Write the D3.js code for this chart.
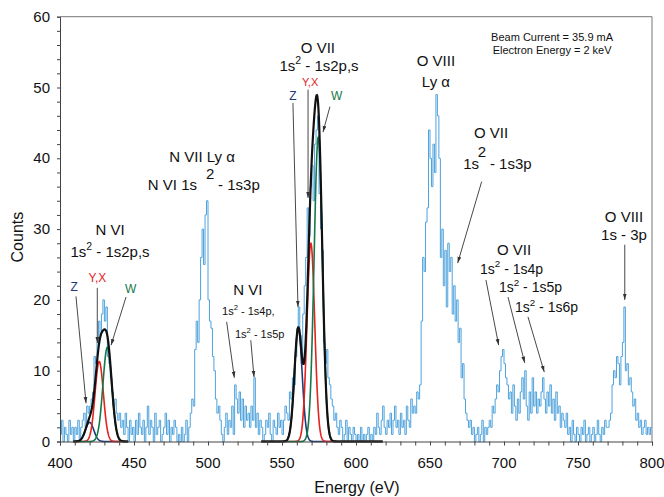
<html>
<head>
<meta charset="utf-8">
<script src="https://d3js.org/d3.v7.min.js"></script>
<style>
  body { margin: 0; background: #ffffff; }
  text { font-family: "Liberation Sans", Arial, Helvetica, sans-serif; }
</style>
</head>
<body>
<div id="chart"></div>
<script>

  // histogram counts, 1 eV bins starting at 400 eV
  let counts400 = [
    1,3,0,2,1,0,3,1,2,0,  2,1,3,0,2,3,4,2,5,4,
    5,6,7,12,11,14,17,15,18,20,  17,19,12,11,9,7,5,6,4,3,
    4,2,3,1,4,2,0,3,1,2,  0,3,1,4,2,1,3,0,2,5,
    1,3,2,0,4,1,2,3,0,1,  2,4,1,3,0,2,1,3,2,0,
    1,0,2,0,1,3,0,2,4,6,  5,13,17,14,20,26,30,25,32,34
  ];
  let counts500 = [
    20,17,16,12,10,6,4,5,3,1,  0,2,4,1,3,2,5,1,8,6,
    4,7,3,6,2,5,3,4,2,5,  3,9,2,4,1,3,2,0,1,3,
    2,4,1,0,3,2,1,4,2,3,  1,3,5,4,3,7,6,9,8,12,
    16,19,15,11,18,22,26,33,29,36,  39,34,42,44,46,35,30,27,14,11,
    13,9,8,6,5,3,4,2,1,3,  2,0,1,3,0,2,1,0,2,1
  ];
  let counts600 = [
    0,1,0,2,0,1,0,1,2,0,  1,0,2,1,4,2,1,3,5,2,
    1,3,2,4,1,3,5,2,3,1,  4,2,3,1,5,3,2,6,4,5,
    4,7,6,8,17,26,24,31,33,44,  40,36,42,38,49,46,40,26,30,22,
    27,19,28,24,26,18,22,17,20,14,  16,9,11,6,4,3,2,3,1,2,
    0,1,2,0,1,3,0,2,1,2,  3,2,5,4,6,8,7,10,12,13
  ];
  let counts700 = [
    11,9,8,6,7,4,8,5,3,6,  4,7,9,6,10,5,3,7,4,9,
    5,7,4,6,5,7,9,6,4,7,  5,8,4,6,3,7,4,5,2,4,
    3,2,4,1,2,0,3,1,0,2,  1,0,2,1,3,0,1,2,0,1,
    2,0,1,3,1,0,2,1,3,2,  2,3,4,8,10,9,12,11,8,12,
    14,19,10,11,8,9,7,5,6,3,  4,2,3,1,2,3,1,2,1,2
  ];
  let binStart = 400;
  let counts = [].concat(counts400, counts500, counts600, counts700);

  // fitted line components (z, y+x, w) for the two triplets
  let fitNames   = ["z", "yx", "w"];
  let nviCenters = [420.0, 426.5, 432.0];
  let nviAmps    = [2.7, 11.3, 13.3];
  let nviSigmas  = [2.8, 2.8, 3.0];
  let nviRange   = [409, 446];
  let oviiCenters = [561.0, 569.5, 574.5];
  let oviiAmps    = [16.0, 28.0, 43.0];
  let oviiSigmas  = [2.6, 2.6, 2.8];
  let oviiRange   = [536, 618];

  let xTicks = [400, 450, 500, 550, 600, 650, 700, 750, 800];
  let yTicks = [0, 10, 20, 30, 40, 50, 60];

  let width = 664, height = 497;
  let mLeft = 60, mRight = 652, mTop = 16.7, mBottom = 441.5;

  let svg = d3.select("#chart").append("svg")
    .attr("width", width)
    .attr("height", height);

  svg.append("rect").attr("width", width).attr("height", height).style("fill", "#ffffff");

  let x = d3.scaleLinear().domain([400, 800]).range([mLeft, mRight]);
  let y = d3.scaleLinear().domain([0, 60]).range([mBottom, mTop]);

  // frame (top and right)
  svg.append("path")
    .attr("d", `M${mLeft},${mTop}H${mRight}V${mBottom}`)
    .style("fill", "none").style("stroke", "#777").style("stroke-width", 1);

  // histogram
  let histPts = counts.map((c, i) => [binStart + i, c]);
  histPts.push([binStart + counts.length, counts[counts.length - 1]]);
  let stepLine = d3.line()
    .x(d => x(d[0])).y(d => y(d[1]))
    .curve(d3.curveStepAfter);
  svg.append("path")
    .attr("d", stepLine(histPts))
    .style("fill", "none")
    .style("stroke", "#4ea2dc")
    .style("stroke-width", 1);

  // fit curves
  let colors = { z: "#1f3a78", yx: "#e3231f", w: "#16784a" };
  let smooth = d3.line().x(d => x(d[0])).y(d => y(d[1]));

  function drawFit(centers, amps, sigmas, range) {
    let es = d3.range(range[0], range[1] + 0.001, 0.2);
    let g = (k, e) => amps[k] * Math.exp(-Math.pow(e - centers[k], 2) / (2 * sigmas[k] * sigmas[k]));
    fitNames.forEach((name, k) => {
      svg.append("path")
        .attr("d", smooth(es.map(e => [e, g(k, e)])))
        .style("fill", "none")
        .style("stroke", colors[name])
        .style("stroke-width", 1.6);
    });
    svg.append("path")
      .attr("d", smooth(es.map(e => [e, g(0, e) + g(1, e) + g(2, e)])))
      .style("fill", "none")
      .style("stroke", "#111")
      .style("stroke-width", 2.2);
  }
  drawFit(nviCenters, nviAmps, nviSigmas, nviRange);
  drawFit(oviiCenters, oviiAmps, oviiSigmas, oviiRange);

  // axes
  let xAxis = svg.append("g").attr("transform", `translate(0,${mBottom})`)
    .call(d3.axisBottom(x).tickValues(d3.range(400, 801, 10)).tickSize(4).tickFormat(""));
  xAxis.select(".domain").style("stroke", "#444");
  xAxis.selectAll(".tick line").style("stroke", "#444");
  svg.selectAll(".xlab").data(xTicks).enter().append("text")
    .attr("x", d => x(d)).attr("y", mBottom + 26)
    .attr("text-anchor", "middle")
    .style("font-size", "15px").style("fill", "#111")
    .text(d => d);

  let yAxis = svg.append("g").attr("transform", `translate(${mLeft},0)`)
    .call(d3.axisLeft(y).tickValues(d3.range(0, 61, 2)).tickSize(3).tickFormat(""));
  yAxis.select(".domain").style("stroke", "#444");
  yAxis.selectAll(".tick line").style("stroke", "#444");
  svg.selectAll(".ylab").data(yTicks).enter().append("text")
    .attr("x", mLeft - 10).attr("y", d => y(d) + 5)
    .attr("text-anchor", "end")
    .style("font-size", "15px").style("fill", "#111")
    .text(d => d);

  svg.append("text")
    .attr("transform", `translate(23,${(mTop + mBottom) / 2 + 8}) rotate(-90)`)
    .attr("text-anchor", "middle")
    .style("font-size", "16px").style("fill", "#111")
    .text("Counts");
  svg.append("text")
    .attr("x", 357).attr("y", 493)
    .attr("text-anchor", "middle")
    .style("font-size", "16px").style("fill", "#111")
    .text("Energy (eV)");

  // annotations (positions in eV / counts)
  svg.append("defs").append("marker")
    .attr("id", "arr").attr("viewBox", "0 0 10 10")
    .attr("refX", 10).attr("refY", 5)
    .attr("markerWidth", 7).attr("markerHeight", 7)
    .attr("orient", "auto-start-reverse")
    .append("path").attr("d", "M0,2 L10,5 L0,8 Z").style("fill", "#333");

  function label(e, c, txt, size, anchor, color) {
    return svg.append("text")
      .attr("x", x(e)).attr("y", y(c))
      .attr("text-anchor", anchor || "middle")
      .style("font-size", size + "px")
      .style("fill", color || "#111")
      .text(txt);
  }
  function sqLabel(e, c, pre, post, size, anchor) {
    let t = label(e, c, "", size, anchor);
    t.append("tspan").text(pre);
    t.append("tspan").attr("dy", -size * 0.45).style("font-size", (size * 0.7) + "px").text("2");
    t.append("tspan").attr("dy", size * 0.45).text(post);
    return t;
  }
  function arrow(e1, c1, e2, c2) {
    svg.append("line")
      .attr("x1", x(e1)).attr("y1", y(c1)).attr("x2", x(e2)).attr("y2", y(c2))
      .style("stroke", "#333").style("stroke-width", 0.9)
      .attr("marker-end", "url(#arr)");
  }

  label(732.5, 56.5, "Beam Current = 35.9 mA", 11);
  label(732.5, 54.7, "Electron Energy = 2 keV", 11);

  // N VI triplet
  label(433.8, 29.2, "N VI", 15);
  sqLabel(433.8, 26.1, "1s", " - 1s2p,s", 15);
  label(409.5, 21.3, "Z", 12, "middle", colors.z);
  label(425.3, 22.5, "Y,X", 12, "middle", colors.yx);
  label(447.8, 21.0, "W", 12, "middle", colors.w);
  arrow(410.8, 20.5, 417.6, 5.4);
  arrow(425.2, 21.7, 425.2, 13.9);
  arrow(444.6, 20.4, 434.5, 13.6);

  // N VII Ly a / N VI 1s3p
  label(496, 39.5, "N VII Ly \u03b1", 15);
  label(501.4, 37.1, "2", 15);
  label(492.6, 35.5, "N VI 1s", 15, "end");
  label(506.8, 35.5, "- 1s3p", 15, "start");

  // N VI higher series
  label(527, 20.7, "N VI", 15);
  sqLabel(509.5, 17.9, "1s", " - 1s4p,", 11, "start");
  sqLabel(518.2, 14.6, "1s", " - 1s5p", 11, "start");
  arrow(512.6, 16.9, 517.8, 9.0);
  arrow(528.9, 14.3, 531.1, 9.1);

  // O VII triplet
  label(574.3, 54.9, "O VII", 15);
  sqLabel(575, 52.3, "1s", " - 1s2p,s", 15);
  label(569, 50.2, "Y,X", 11, "middle", colors.yx);
  label(557.4, 48.3, "Z", 12, "middle", colors.z);
  label(587, 48.3, "W", 12, "middle", colors.w);
  arrow(557.4, 47.8, 560.8, 19.0);
  arrow(567.6, 49.7, 567.6, 34.4);
  arrow(582.4, 47.3, 577.7, 43.7);

  // O VIII Ly a
  label(654, 53.1, "O VIII", 15);
  label(654, 50.1, "Ly \u03b1", 15);

  // O VII 1s3p
  label(691.2, 42.8, "O VII", 15);
  label(685.1, 40.2, "2", 15);
  label(683.1, 38.5, "1s", 15, "end");
  label(690.5, 38.5, "- 1s3p", 15, "start");
  arrow(684.9, 36.7, 668.7, 25.2);

  // O VII higher series
  label(706.8, 26.4, "O VII", 15);
  sqLabel(683.8, 23.7, "1s", " - 1s4p", 14, "start");
  sqLabel(696.6, 21.1, "1s", " - 1s5p", 14, "start");
  sqLabel(707.4, 18.3, "1s", " - 1s6p", 14, "start");
  arrow(687.8, 22.8, 696.4, 13.6);
  arrow(702.7, 20.4, 714.0, 11.1);
  arrow(716.2, 17.6, 727.2, 9.8);

  // O VIII 1s-3p
  label(781.1, 31.0, "O VIII", 15);
  label(781.1, 28.5, "1s - 3p", 15);
  arrow(781.6, 27.8, 781.6, 20.0);

</script>
</body>
</html>
